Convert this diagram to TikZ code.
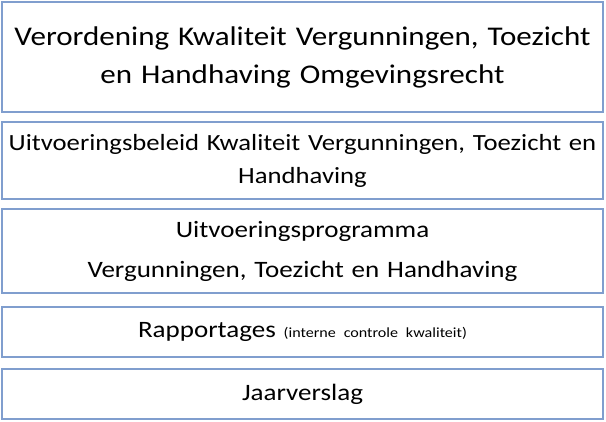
\documentclass[tikz,border=0pt]{standalone}
\usepackage{fontspec}
\setmainfont{Carlito}[FakeStretch=1.15, WordSpace=0.85]
\definecolor{kader}{RGB}{128,158,206}

\tikzset{laag/.style = {draw = kader, line width = 1.2pt, rectangle,
                        minimum width = 601pt, minimum height = #1,
                        text width = 598pt, align = center, inner sep = 0pt},
         laag/.default = 50pt
        }

\begin{document}
\begin{tikzpicture}[x=1pt, y=-1pt]
  \useasboundingbox (0,0) rectangle (606,422);
  \node[laag=110pt, font=\fontsize{27}{38}\selectfont] (verordening) at (302.5,57)
       {Verordening Kwaliteit Vergunningen, Toezicht\\en Handhaving Omgevingsrecht};
  \node[laag=77pt, font=\fontsize{23.2}{33}\selectfont] (beleid) at (302.5,160.5)
       {Uitvoeringsbeleid Kwaliteit Vergunningen, Toezicht en\\Handhaving};
  \node[laag=84pt, font=\fontsize{23.5}{40}\selectfont] (programma) at (302.5,251)
       {Uitvoeringsprogramma\\Vergunningen, Toezicht en Handhaving};
  \node[laag, font=\fontsize{23.5}{27}\selectfont] (rapportages) at (302.5,332)
       {Rapportages {\fontsize{14}{16}\selectfont (interne controle kwaliteit)}};
  \node[laag, font=\fontsize{23.5}{27}\selectfont] (jaarverslag) at (302.5,394)
       {Jaarverslag};
\end{tikzpicture}
\end{document}
